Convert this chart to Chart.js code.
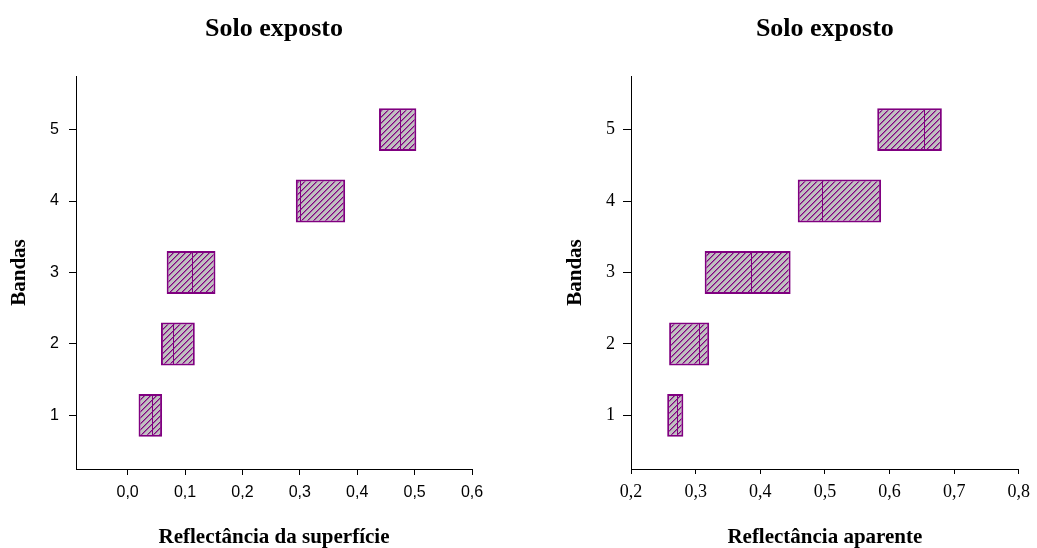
<!DOCTYPE html>
<html lang="pt">
<head>
<meta charset="utf-8">
<title>Solo exposto</title>
<script src="https://cdn.jsdelivr.net/npm/chart.js@4/dist/chart.umd.min.js"></script>
<style>
  html, body { margin: 0; padding: 0; background: #fff; }
  #wrap { position: relative; width: 1037px; height: 548px; overflow: hidden; }
  canvas { position: absolute; top: 0; }
  #surface { left: 0; }
  #apparent { left: 518px; }
</style>
</head>
<body>
<div id="wrap">
  <canvas id="surface" width="518" height="548"></canvas>
  <canvas id="apparent" width="519" height="548"></canvas>
</div>
<script>
// Band numbers and reflectance ranges (minimum, median, maximum) per band
const bands = [1, 2, 3, 4, 5];
const surfaceMin    = [0.019, 0.058, 0.068, 0.293, 0.438];
const surfaceMedian = [0.043, 0.079, 0.112, 0.301, 0.474];
const surfaceMax    = [0.060, 0.117, 0.153, 0.379, 0.503];
const apparentMin    = [0.256, 0.259, 0.314, 0.458, 0.581];
const apparentMedian = [0.271, 0.305, 0.385, 0.495, 0.653];
const apparentMax    = [0.281, 0.321, 0.447, 0.587, 0.681];

// Tick values
const surfaceTicks  = [0.0, 0.1, 0.2, 0.3, 0.4, 0.5, 0.6];
const apparentTicks = [0.2, 0.3, 0.4, 0.5, 0.6, 0.7, 0.8];
const bandTicks = [1, 2, 3, 4, 5];

const PURPLE = '#800080';
const GREY = '#c0c0c0';

// Grey fill with crisp, pixel-stepped purple "/" hatching
function hatchPattern() {
  const s = 6;
  const c = document.createElement('canvas');
  c.width = s; c.height = s;
  const g = c.getContext('2d');
  g.fillStyle = GREY;
  g.fillRect(0, 0, s, s);
  for (let y = 0; y < s; y++) {
    g.fillStyle = PURPLE;
    g.fillRect((s - 1 - y + s) % s, y, 1, 1);
    g.fillStyle = '#a060a0';
    g.fillRect((s - y) % s, y, 1, 1);
  }
  return g.createPattern(c, 'repeat');
}

// Draws the median divider inside each box, positioned with the value scale
const medianLines = {
  id: 'medianLines',
  afterDatasetsDraw(chart, args, opts) {
    const { ctx } = chart;
    const xs = chart.scales.x;
    const meta = chart.getDatasetMeta(0);
    ctx.save();
    ctx.strokeStyle = PURPLE;
    ctx.lineWidth = 1;
    ctx.beginPath();
    meta.data.forEach((bar, i) => {
      const px = Math.round(xs.getPixelForValue(opts.values[i])) + 0.5;
      const { y, height } = bar.getProps(['y', 'height'], true);
      ctx.moveTo(px, y - height / 2 + 1);
      ctx.lineTo(px, y + height / 2 - 1);
    });
    ctx.stroke();
    ctx.restore();
  }
};

const fmt = v => v.toFixed(1).replace('.', ',');

function boxChart(id, o) {
  const ranges = bands.map((b, i) => ({ y: b, x: [o.min[i], o.max[i]] }));
  const titleFont = { family: 'Liberation Serif', size: 21, weight: 'bold' };

  return new Chart(document.getElementById(id), {
    type: 'bar',
    data: {
      datasets: [{
        data: ranges,
        backgroundColor: hatchPattern(),
        borderColor: PURPLE,
        borderWidth: 2,
        borderSkipped: false,
        barPercentage: 0.6,
        categoryPercentage: 1.0
      }]
    },
    plugins: [medianLines],
    options: {
      indexAxis: 'y',
      responsive: false,
      animation: false,
      events: [],
      layout: { padding: { left: 0, right: o.padRight, top: 0, bottom: 0 } },
      plugins: {
        legend: { display: false },
        tooltip: { enabled: false },
        medianLines: { values: o.median },
        title: {
          display: true,
          text: 'Solo exposto',
          fullSize: false,
          color: '#000',
          font: { family: 'Liberation Serif', size: 26, weight: 'bold' },
          padding: { top: 14, bottom: 30.8 }
        }
      },
      scales: {
        x: {
          type: 'linear',
          min: o.xMin,
          max: o.xMax,
          afterFit: s => { s.height = 79; },
          afterBuildTicks: s => { s.ticks = o.ticks.map(v => ({ value: v })); },
          border: { display: true, color: '#000', width: 1 },
          grid: { display: true, drawOnChartArea: false, drawTicks: true, tickLength: o.xTickLen, color: '#000' },
          ticks: {
            color: '#000',
            padding: o.xTickPad,
            maxRotation: 0,
            autoSkip: false,
            font: o.tickFont,
            callback: v => fmt(v)
          },
          title: {
            display: true,
            text: o.xTitle,
            color: '#000',
            font: titleFont,
            padding: { top: 0, bottom: -2 }
          }
        },
        y: {
          type: 'linear',
          min: 0.25,
          max: 5.75,
          offset: false,
          afterFit: s => { s.width = o.yWidth; },
          afterBuildTicks: s => { s.ticks = bandTicks.map(v => ({ value: v })); },
          border: { display: true, color: '#000', width: 1 },
          grid: { display: true, offset: false, drawOnChartArea: false, drawTicks: true, tickLength: o.yTickLen, color: '#000' },
          ticks: {
            color: '#000',
            padding: o.yTickPad,
            font: o.tickFont,
            callback: v => String(v)
          },
          title: {
            display: true,
            text: 'Bandas',
            color: '#000',
            font: titleFont,
            padding: { top: o.yTitlePad, bottom: 0 }
          }
        }
      }
    }
  });
}

boxChart('surface', {
  min: surfaceMin, median: surfaceMedian, max: surfaceMax,
  xMin: -0.09, xMax: 0.6, ticks: surfaceTicks,
  xTitle: 'Reflectância da superfície',
  tickFont: { family: 'Liberation Sans', size: 16 },
  padRight: 46, yWidth: 76, yTitlePad: 7,
  xTickLen: 6, xTickPad: 8, yTickLen: 7, yTickPad: 10
});

boxChart('apparent', {
  min: apparentMin, median: apparentMedian, max: apparentMax,
  xMin: 0.2, xMax: 0.8, ticks: apparentTicks,
  xTitle: 'Reflectância aparente',
  tickFont: { family: 'Liberation Serif', size: 18 },
  padRight: 13, yWidth: 113, yTitlePad: 45,
  xTickLen: 5, xTickPad: 7, yTickLen: 8, yTickPad: 8
});
</script>
</body>
</html>
